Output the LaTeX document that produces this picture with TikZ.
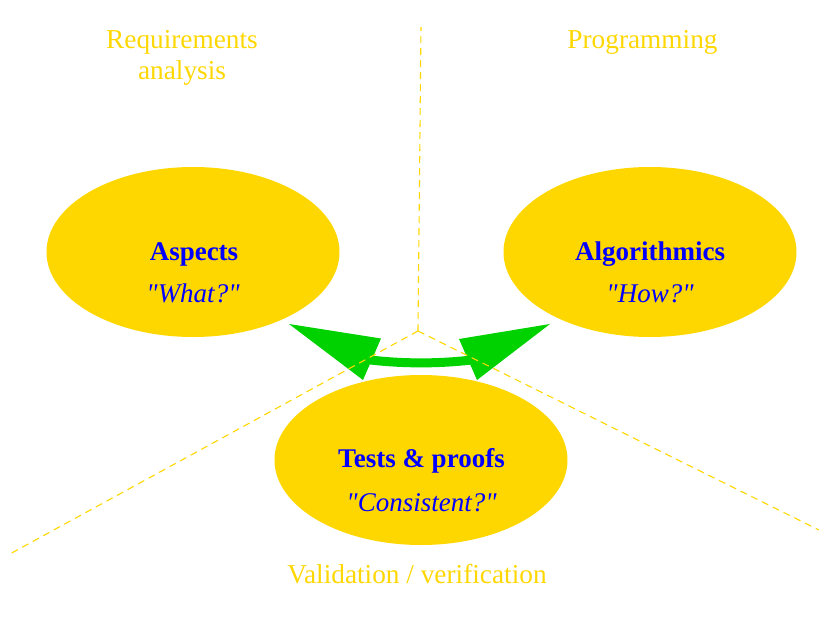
\documentclass[tikz,border=0pt]{standalone}
\usepackage{fontspec}
\setmainfont{Liberation Serif}[Ligatures=TeXOff]
\usetikzlibrary{shapes.geometric}
\definecolor{gold}{RGB}{255,215,0}
\definecolor{arrowgreen}{RGB}{0,210,0}
\definecolor{txtblue}{RGB}{0,0,255}
\begin{document}
\begin{tikzpicture}[x=1pt,y=-1pt,
  bubble/.style={ellipse, fill=gold, minimum width=293pt, minimum height=170pt, inner sep=0pt},
  title/.style={font=\fontsize{27}{30}\selectfont\bfseries, text=txtblue, anchor=base, inner sep=0pt},
  question/.style={font=\fontsize{27}{30}\selectfont\itshape, text=txtblue, anchor=base, inner sep=0pt},
  area/.style={font=\fontsize{27.3}{30.6}\selectfont, text=gold, anchor=base, inner sep=0pt, align=center},
  divider/.style={draw=gold, line width=1.1pt, dash pattern=on 7pt off 5pt},
  shaft/.style={draw=arrowgreen, line width=9pt},
  head/.style={fill=arrowgreen}
]
\useasboundingbox (0,0) rectangle (819,621);

% ellipses
\node[bubble] (aspects) at (193,252) {};
\node[bubble] (algo) at (650,252) {};
\node[bubble] (tests) at (421,460) {};

\node[title] (aspT) at (194,260) {Aspects};
\node[question] (aspQ) at (193,302.5) {"What?"};
\node[title] (algT) at (650,260) {Algorithmics};
\node[question] (algQ) at (650,302.5) {"How?"};
\node[title] (tstT) at (421.5,467) {Tests \& proofs};
\node[question] (tstQ) at (421.5,511.5) {"Consistent?"};

% area labels
\node[area] (req) at (182,79) {Requirements\\analysis};
\node[area] (prog) at (642.5,48.5) {Programming};
\node[area] (valid) at (417,583) {Validation / verification};

% double arrow
\coordinate (sL) at (366,359.5);
\coordinate (sR) at (476,359.5);
\draw[shaft] (sL) .. controls (403,364) and (439,364) .. (sR);
\coordinate (tipL) at (289,324);
\coordinate (tipR) at (550,324);
\fill[head] (tipL) -- (381,338.5) -- (363,380) -- cycle;
\fill[head] (tipR) -- (459,339) -- (477,380) -- cycle;

% dividers
\coordinate (hub) at (418,331);
\coordinate (topEnd) at (421,27);
\coordinate (leftEnd) at (8,555);
\coordinate (rightEnd) at (819,530);
\draw[divider] (hub) -- (topEnd);
\draw[divider] (hub) -- (leftEnd);
\draw[divider] (hub) -- (rightEnd);
\end{tikzpicture}
\end{document}
